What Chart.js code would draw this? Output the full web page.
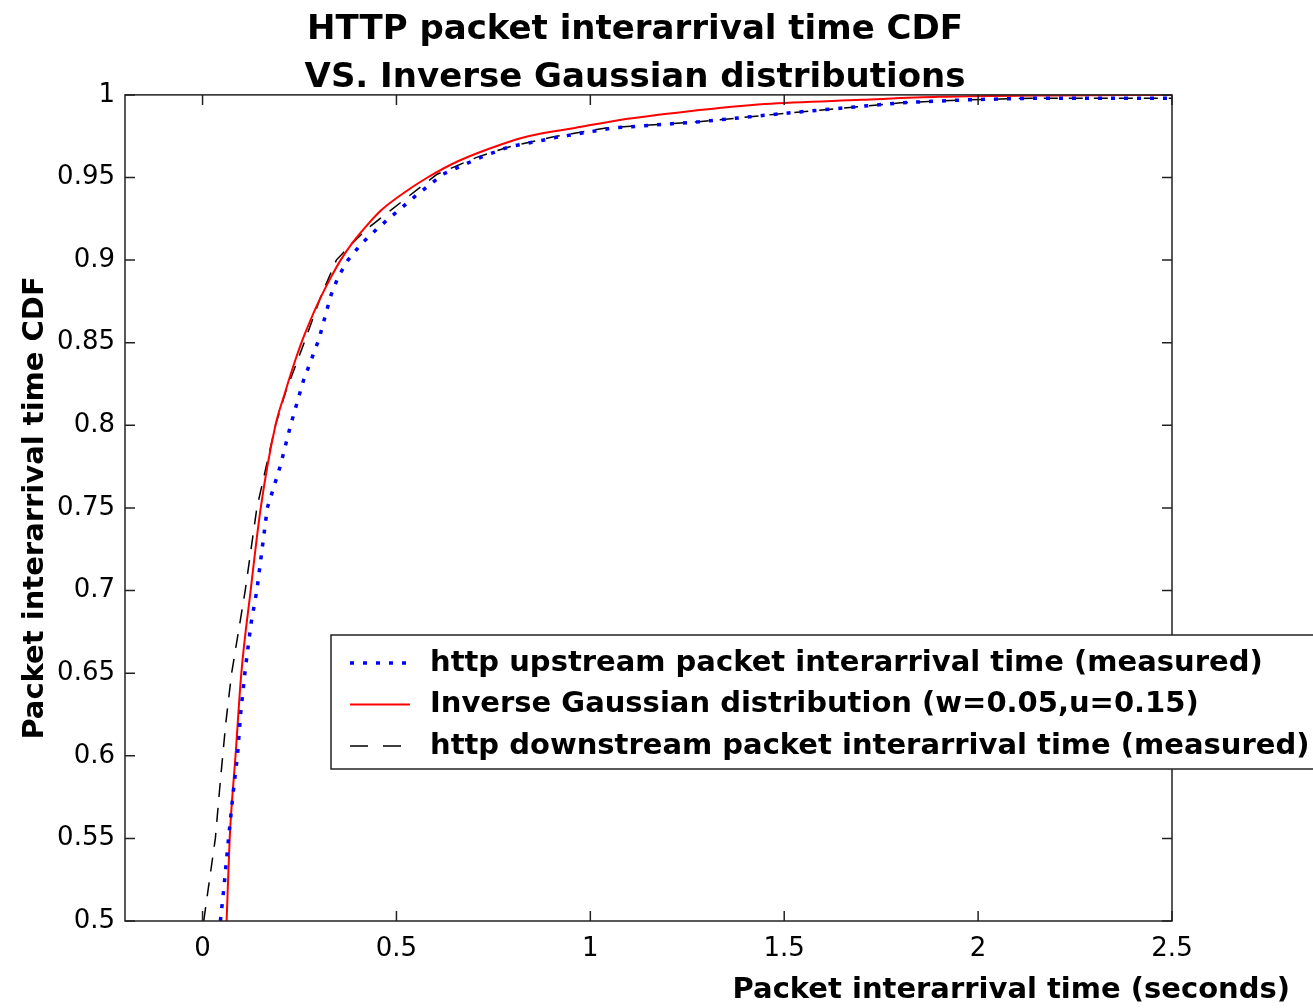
<!DOCTYPE html>
<html>
<head>
<meta charset="utf-8">
<script src="https://cdn.jsdelivr.net/npm/chart.js@4"></script>
<style>
  body { margin: 0; background: #fff; }
  #wrap { width: 1313px; height: 1008px; }
</style>
</head>
<body>
<div id="wrap"><canvas id="cdfChart"></canvas></div>
<script>
// Ticks
const xTicks = [0, 0.5, 1, 1.5, 2, 2.5];
const yTicks = [0.5, 0.55, 0.6, 0.65, 0.7, 0.75, 0.8, 0.85, 0.9, 0.95, 1];

// http upstream (measured)
const upX = [0.046, 0.055, 0.067, 0.08, 0.09, 0.098, 0.11, 0.125, 0.14, 0.167, 0.20, 0.227, 0.26, 0.30, 0.33, 0.35, 0.375, 0.41, 0.455, 0.545, 0.62, 0.72, 0.79, 0.92, 1.06, 1.28, 1.54, 1.80, 1.97, 2.14, 2.5];
const upY = [0.5, 0.52, 0.55, 0.58, 0.6, 0.625, 0.652, 0.68, 0.70, 0.75, 0.775, 0.80, 0.827, 0.852, 0.878, 0.89, 0.90, 0.91, 0.92, 0.938, 0.952, 0.9625, 0.9685, 0.9746, 0.980, 0.9837, 0.9897, 0.9952, 0.997, 0.998, 0.998];

// Inverse Gaussian (w=0.05, u=0.15)
const igX = [0.062, 0.07, 0.085, 0.1, 0.124, 0.15, 0.188, 0.213, 0.226, 0.24, 0.255, 0.272, 0.29, 0.31, 0.332, 0.356, 0.385, 0.42, 0.46, 0.515, 0.58, 0.66, 0.77, 0.84, 0.96, 1.08, 1.25, 1.45, 1.7, 1.9, 2.2, 2.5];
const igY = [0.5, 0.55, 0.6, 0.65, 0.7, 0.75, 0.8, 0.82, 0.83, 0.84, 0.85, 0.86, 0.87, 0.88, 0.89, 0.90, 0.91, 0.92, 0.93, 0.94, 0.95, 0.96, 0.97, 0.975, 0.98, 0.985, 0.990, 0.9945, 0.997, 0.9988, 0.9997, 1.0];

// http downstream (measured)
const downX = [0.003, 0.015, 0.033, 0.046, 0.06, 0.075, 0.11, 0.14, 0.188, 0.214, 0.262, 0.305, 0.345, 0.385, 0.43, 0.528, 0.605, 0.71, 0.79, 0.905, 1.04, 1.28, 1.54, 1.8, 1.97, 2.14, 2.5];
const downY = [0.5, 0.52, 0.55, 0.585, 0.62, 0.65, 0.70, 0.75, 0.80, 0.82, 0.85, 0.878, 0.90, 0.91, 0.92, 0.938, 0.952, 0.9625, 0.9685, 0.9746, 0.980, 0.9837, 0.9897, 0.9952, 0.997, 0.998, 0.998];

const pts = (xs, ys) => xs.map((v, i) => ({ x: v, y: ys[i] }));

Chart.defaults.font.family = '"DejaVu Sans"';
Chart.defaults.color = '#000';

// MATLAB-style box: frame, inward ticks, x title and legend
const matlabBox = {
  id: 'matlabBox',
  afterDraw(chart) {
    const { ctx, chartArea: a, scales: { x, y } } = chart;
    ctx.save();
    ctx.strokeStyle = '#222';
    ctx.lineWidth = 1.5;
    ctx.setLineDash([]);
    ctx.strokeRect(a.left, a.top, a.right - a.left, a.bottom - a.top);
    ctx.beginPath();
    xTicks.forEach(v => {
      const px = x.getPixelForValue(v);
      ctx.moveTo(px, a.bottom); ctx.lineTo(px, a.bottom - 10);
      ctx.moveTo(px, a.top); ctx.lineTo(px, a.top + 10);
    });
    yTicks.forEach(v => {
      const py = y.getPixelForValue(v);
      ctx.moveTo(a.left, py); ctx.lineTo(a.left + 10, py);
      ctx.moveTo(a.right, py); ctx.lineTo(a.right - 10, py);
    });
    ctx.stroke();

    // x axis title, runs past the right edge of the plot
    ctx.font = 'bold 29px "DejaVu Sans"';
    ctx.fillStyle = '#000';
    ctx.textAlign = 'right';
    ctx.textBaseline = 'middle';
    ctx.fillText('Packet interarrival time (seconds)', a.right + 118, a.bottom + 69);

    // legend
    const lx = 331, ly = 635;
    ctx.fillStyle = '#fff';
    ctx.fillRect(lx, ly, 1000, 134);
    ctx.strokeStyle = '#222';
    ctx.strokeRect(lx, ly, 1000, 134);
    chart.data.datasets.forEach((ds, i) => {
      const ry = ly + 28 + i * 41.5;
      ctx.strokeStyle = ds.borderColor;
      ctx.lineWidth = ds.borderWidth;
      ctx.setLineDash(ds.legendDash || []);
      ctx.beginPath();
      ctx.moveTo(lx + 19, ry);
      ctx.lineTo(lx + 79, ry);
      ctx.stroke();
      ctx.setLineDash([]);
      ctx.fillStyle = '#000';
      ctx.textAlign = 'left';
      ctx.fillText(ds.label, lx + 99, ry);
    });
    ctx.restore();
  }
};

new Chart(document.getElementById('cdfChart'), {
  type: 'line',
  data: {
    datasets: [{
      label: 'http upstream packet interarrival time (measured)',
      data: pts(upX, upY),
      borderColor: '#0000ff',
      borderWidth: 3.5,
      borderDash: [4, 9],
      legendDash: [4, 9],
      pointRadius: 0
    }, {
      label: 'Inverse Gaussian distribution (w=0.05,u=0.15)',
      data: pts(igX, igY),
      borderColor: '#ff0000',
      borderWidth: 2,
      cubicInterpolationMode: 'monotone',
      pointRadius: 0
    }, {
      label: 'http downstream packet interarrival time (measured)',
      data: pts(downX, downY),
      borderColor: '#000000',
      borderWidth: 1.5,
      borderDash: [14, 11],
      legendDash: [18, 15],
      pointRadius: 0
    }]
  },
  options: {
    responsive: true,
    maintainAspectRatio: false,
    animation: false,
    layout: { padding: { left: 0, right: 43, top: 0, bottom: 0 } },
    scales: {
      x: {
        type: 'linear',
        min: -0.2,
        max: 2.5,
        afterBuildTicks: s => { s.ticks = xTicks.map(v => ({ value: v })); },
        afterFit: s => { s.height = 87; },
        grid: { display: false, drawTicks: false },
        border: { display: false },
        ticks: { font: { size: 26 }, padding: 13, callback: v => String(v) }
      },
      y: {
        type: 'linear',
        min: 0.5,
        max: 1,
        afterBuildTicks: s => { s.ticks = yTicks.map(v => ({ value: v })); },
        afterFit: s => { s.width = 125; },
        grid: { display: false, drawTicks: false },
        border: { display: false },
        ticks: { font: { size: 26 }, padding: 10, callback: v => String(v) },
        title: {
          display: true,
          text: 'Packet interarrival time CDF',
          font: { size: 29, weight: 'bold' },
          padding: { top: 18, bottom: 0 }
        }
      },
      // empty right axis, only keeps room so the title centres like the original
      y2: {
        type: 'linear',
        position: 'right',
        min: 0.5,
        max: 1,
        afterFit: s => { s.width = 98; },
        grid: { display: false, drawTicks: false },
        border: { display: false },
        ticks: { display: false }
      }
    },
    plugins: {
      legend: { display: false },
      tooltip: { enabled: false },
      title: {
        display: true,
        text: ['HTTP packet interarrival time CDF', 'VS. Inverse Gaussian distributions'],
        color: '#000',
        font: { size: 34, weight: 'bold', lineHeight: 1.41 },
        padding: { top: 6, bottom: -7 }
      }
    }
  },
  plugins: [matlabBox]
});
</script>
</body>
</html>
